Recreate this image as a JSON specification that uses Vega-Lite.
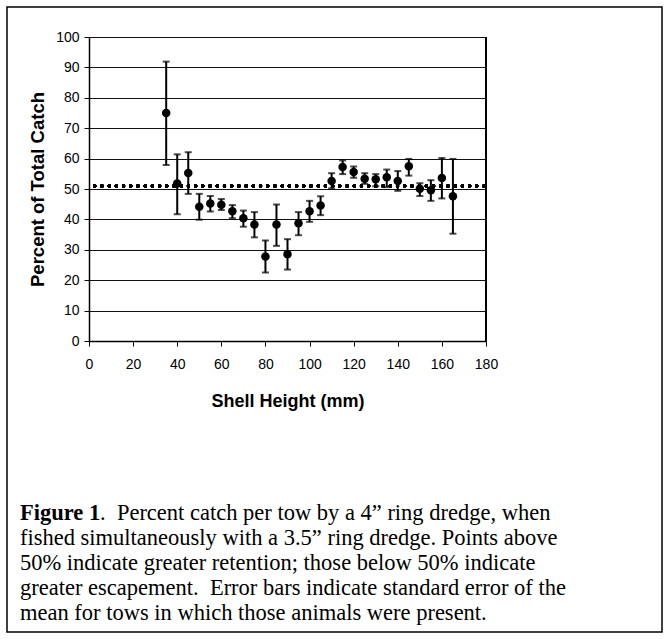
{
  "$schema": "https://vega.github.io/schema/vega-lite/v6.json",
  "width": 655,
  "height": 625,
  "autosize": {"type": "none"},
  "padding": {"left": 7, "top": 7, "right": 10, "bottom": 7},
  "background": "white",
  "config": {
    "font": "Liberation Sans",
    "view": {"stroke": "black", "strokeWidth": 1.5}
  },
  "datasets": {
    "catch": [
      {"x": 35, "mean": 75.0, "lo": 57.9, "hi": 91.9},
      {"x": 40, "mean": 51.8, "lo": 41.7, "hi": 61.4},
      {"x": 45, "mean": 55.3, "lo": 48.4, "hi": 62.1},
      {"x": 50, "mean": 44.2, "lo": 39.9, "hi": 48.4},
      {"x": 55, "mean": 45.2, "lo": 42.6, "hi": 47.7},
      {"x": 60, "mean": 44.8, "lo": 43.1, "hi": 46.7},
      {"x": 65, "mean": 42.7, "lo": 40.4, "hi": 44.7},
      {"x": 70, "mean": 40.4, "lo": 37.6, "hi": 42.9},
      {"x": 75, "mean": 38.3, "lo": 34.1, "hi": 42.4},
      {"x": 80, "mean": 27.8, "lo": 22.5, "hi": 33.1},
      {"x": 85, "mean": 38.3, "lo": 31.3, "hi": 44.9},
      {"x": 90, "mean": 28.5, "lo": 23.5, "hi": 33.5},
      {"x": 95, "mean": 38.7, "lo": 34.8, "hi": 42.4},
      {"x": 100, "mean": 42.7, "lo": 39.2, "hi": 46.1},
      {"x": 105, "mean": 44.6, "lo": 41.4, "hi": 47.6},
      {"x": 110, "mean": 52.6, "lo": 50.2, "hi": 55.2},
      {"x": 115, "mean": 57.2, "lo": 54.9, "hi": 59.4},
      {"x": 120, "mean": 55.6, "lo": 53.7, "hi": 57.4},
      {"x": 125, "mean": 53.4, "lo": 51.7, "hi": 55.2},
      {"x": 130, "mean": 53.2, "lo": 50.9, "hi": 54.9},
      {"x": 135, "mean": 53.9, "lo": 50.6, "hi": 56.4},
      {"x": 140, "mean": 52.6, "lo": 49.4, "hi": 55.9},
      {"x": 145, "mean": 57.5, "lo": 54.4, "hi": 59.9},
      {"x": 150, "mean": 50.1, "lo": 47.7, "hi": 51.9},
      {"x": 155, "mean": 49.6, "lo": 46.1, "hi": 52.9},
      {"x": 160, "mean": 53.6, "lo": 46.9, "hi": 60.2},
      {"x": 165, "mean": 47.6, "lo": 35.3, "hi": 59.9}
    ],
    "caption": [
      {"line": 1, "part": "bold", "text": "Figure 1"},
      {"line": 1, "part": "rest", "text": ".\u00a0 Percent catch per tow by a 4” ring dredge, when"},
      {"line": 2, "part": "body", "text": "fished simultaneously with a 3.5” ring dredge. Points above"},
      {"line": 3, "part": "body", "text": "50% indicate greater retention; those below 50% indicate"},
      {"line": 4, "part": "body", "text": "greater escapement.\u00a0 Error bars indicate standard error of the"},
      {"line": 5, "part": "body", "text": "mean for tows in which those animals were present."}
    ]
  },
  "layer": [
    {
      "data": {"name": "catch"},
      "layer": [
        {
          "mark": {"type": "rule", "color": "black", "strokeWidth": 1.5},
          "encoding": {
            "x": {"datum": 180, "type": "quantitative", "title": "Shell Height (mm)"},
            "y": {"datum": 0, "type": "quantitative", "title": "Percent of Total Catch"},
            "y2": {"datum": 100}
          }
        },
        {
          "mark": {"type": "rule", "color": "black", "strokeWidth": 3.2, "strokeCap": "round", "strokeDash": [0.01, 7.2], "strokeDashOffset": 1.5},
          "encoding": {
            "x": {"datum": 0, "type": "quantitative", "title": "Shell Height (mm)"},
            "x2": {"datum": 180},
            "y": {"datum": 51, "type": "quantitative", "title": "Percent of Total Catch"}
          }
        },
        {
          "mark": {
            "type": "errorbar",
            "color": "black",
            "ticks": {"size": 7, "thickness": 2, "color": "black"},
            "rule": {"strokeWidth": 2, "color": "black"}
          },
          "encoding": {
            "x": {"field": "x", "type": "quantitative", "title": "Shell Height (mm)"},
            "y": {"field": "lo", "type": "quantitative", "title": "Percent of Total Catch"},
            "y2": {"field": "hi"}
          }
        },
        {
          "mark": {"type": "point", "filled": true, "shape": "circle", "size": 72, "color": "black", "opacity": 1},
          "encoding": {
            "x": {
              "field": "x", "type": "quantitative", "title": "Shell Height (mm)",
              "scale": {"domain": [0, 180], "range": [82, 479], "nice": false, "zero": false},
              "axis": {
                "orient": "bottom", "offset": -291,
                "values": [0, 20, 40, 60, 80, 100, 120, 140, 160, 180],
                "grid": false,
                "domainColor": "black", "domainWidth": 1.5,
                "tickColor": "black", "tickSize": 5, "tickWidth": 1,
                "labelFont": "Liberation Sans", "labelFontSize": 14, "labelColor": "black",
                "labelPadding": 11, "labelFlush": false, "labelOverlap": false,
                "titleFont": "Liberation Sans", "titleFontSize": 18, "titleFontWeight": "bold",
                "titleColor": "black", "titlePadding": 21
              }
            },
            "y": {
              "field": "mean", "type": "quantitative", "title": "Percent of Total Catch",
              "scale": {"domain": [0, 100], "range": [334, 30], "nice": false, "zero": false},
              "axis": {
                "orient": "left", "offset": -82,
                "values": [0, 10, 20, 30, 40, 50, 60, 70, 80, 90, 100],
                "grid": true, "gridColor": "#111", "gridWidth": 1,
                "domainColor": "black", "domainWidth": 1.5,
                "tickColor": "black", "tickSize": 5, "tickWidth": 1,
                "labelFont": "Liberation Sans", "labelFontSize": 14, "labelColor": "black",
                "labelPadding": 5, "labelFlush": false, "labelOverlap": false,
                "titleFont": "Liberation Sans", "titleFontSize": 18.5, "titleFontWeight": "bold",
                "titleColor": "black", "titlePadding": 8
              }
            }
          }
        }
      ]
    },
    {
      "data": {"name": "caption"},
      "encoding": {
        "x": {"datum": 0, "type": "quantitative", "scale": {"domain": [0, 1], "range": [13, 645]}, "axis": null},
        "y": {"field": "line", "type": "quantitative", "scale": {"domain": [1, 5], "range": [506, 606]}, "axis": null},
        "text": {"field": "text"}
      },
      "layer": [
        {
          "transform": [{"filter": "datum.part === 'bold'"}],
          "mark": {"type": "text", "align": "left", "baseline": "middle", "font": "Liberation Serif", "fontSize": 22.5, "fontWeight": "bold", "color": "black"}
        },
        {
          "transform": [{"filter": "datum.part === 'rest'"}],
          "mark": {"type": "text", "align": "left", "baseline": "middle", "font": "Liberation Serif", "fontSize": 22.5, "color": "black", "dx": 80}
        },
        {
          "transform": [{"filter": "datum.part === 'body'"}],
          "mark": {"type": "text", "align": "left", "baseline": "middle", "font": "Liberation Serif", "fontSize": 22.5, "color": "black"}
        }
      ]
    }
  ],
  "resolve": {"scale": {"x": "independent", "y": "independent"}, "axis": {"x": "independent", "y": "independent"}}
}
